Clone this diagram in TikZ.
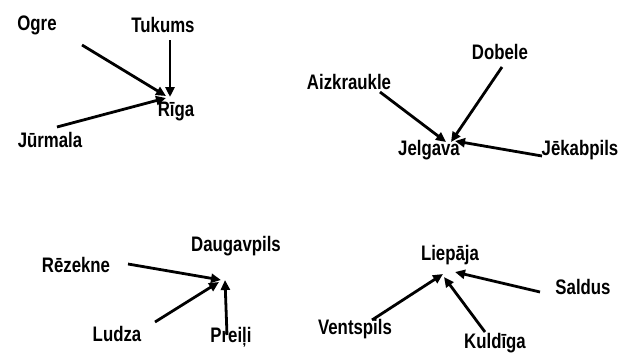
\documentclass[tikz,border=0pt]{standalone}
\usepackage{fontspec}
\setmainfont{Liberation Sans}[FakeStretch=0.8]
\usetikzlibrary{arrows.meta}
\begin{document}
\begin{tikzpicture}[x=1pt,y=-1pt,
  city/.style={font=\bfseries\fontsize{21}{24}\selectfont, inner sep=0pt},
  link/.style={line width=2.8pt, -{Triangle[length=10pt,width=9pt]}}]
\useasboundingbox (0,0) rectangle (635,356);
% group 1
\node[city] (ogre) at (37,25) {Ogre};
\node[city] (tukums) at (163,25) {Tukums};
\node[city] (riga) at (176,112) {Rīga};
\node[city] (jurmala) at (50,140) {Jūrmala};
\coordinate (ogreS) at (82,45);
\coordinate (tukumsS) at (170,40);
\coordinate (jurmalaS) at (57,127);
\coordinate (rigaA) at (166,96);
\coordinate (rigaB) at (170,97);
\coordinate (rigaC) at (166,98);
\draw[link] (ogreS) -- (rigaA);
\draw[link] (tukumsS) -- (rigaB);
\draw[link] (jurmalaS) -- (rigaC);
% group 2
\node[city] (dobele) at (500,52) {Dobele};
\node[city] (aizkraukle) at (349,82) {Aizkraukle};
\node[city] (jelgava) at (429,150) {Jelgava};
\node[city] (jekabpils) at (580,150) {Jēkabpils};
\coordinate (aizS) at (380,92);
\coordinate (dobS) at (502,67);
\coordinate (jekS) at (542,156);
\coordinate (jelA) at (446,142);
\coordinate (jelB) at (451,142);
\coordinate (jelC) at (455,141);
\draw[link] (aizS) -- (jelA);
\draw[link] (dobS) -- (jelB);
\draw[link] (jekS) -- (jelC);
% group 3
\node[city] (rezekne) at (76,265) {Rēzekne};
\node[city] (daugavpils) at (236,246) {Daugavpils};
\node[city] (ludza) at (117,334) {Ludza};
\node[city] (preili) at (231,337) {Preiļi};
\coordinate (rezS) at (128,264);
\coordinate (ludS) at (155,322);
\coordinate (preS) at (227,335);
\coordinate (dauA) at (221,280);
\coordinate (dauB) at (219,282);
\coordinate (dauC) at (225,280);
\draw[link] (rezS) -- (dauA);
\draw[link] (ludS) -- (dauB);
\draw[link] (preS) -- (dauC);
% group 4
\node[city] (liepaja) at (450,255) {Liepāja};
\node[city] (saldus) at (583,287) {Saldus};
\node[city] (ventspils) at (355,329) {Ventspils};
\node[city] (kuldiga) at (495,343) {Kuldīga};
\coordinate (venS) at (372,320);
\coordinate (kulS) at (485,332);
\coordinate (salS) at (540,292);
\coordinate (lieA) at (443,274);
\coordinate (lieB) at (444,277);
\coordinate (lieC) at (455,272);
\draw[link] (venS) -- (lieA);
\draw[link] (kulS) -- (lieB);
\draw[link] (salS) -- (lieC);
\end{tikzpicture}
\end{document}
